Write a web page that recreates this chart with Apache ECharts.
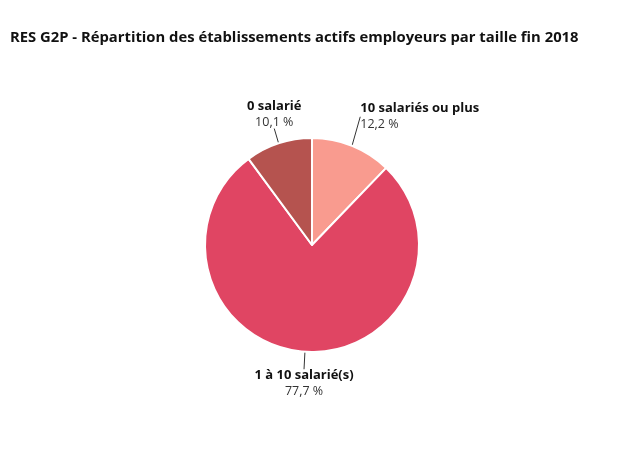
<!DOCTYPE html>
<html><head><meta charset="utf-8">
<script src="https://cdn.jsdelivr.net/npm/echarts@6/dist/echarts.min.js"></script>
<style>html,body{margin:0;padding:0;background:#fff}#c{width:623px;height:472px}</style>
</head><body><div id="c"></div>
<script>
const title = "RES G2P - Répartition des établissements actifs employeurs par taille fin 2018";
const categories = ["10 salariés ou plus", "1 à 10 salarié(s)", "0 salarié"];
const values = [12.2, 77.7, 10.1];
const colors = ["#f99b8f", "#e04563", "#b5534f"];
const aligns = ["left", "center", "center"];

const chart = echarts.init(document.getElementById('c'));
const fmt = v => v.toFixed(1).replace('.', ',') + ' %';
chart.setOption({
  animation: false,
  title: {text: title, left: 5, top: 25, textStyle: {fontFamily: 'Open Sans', fontWeight: 'bold', fontSize: 14.8, color: '#111'}},
  series: [{
    type: 'pie',
    center: [312, 245],
    radius: [0, 107],
    startAngle: 90,
    clockwise: true,
    itemStyle: {borderColor: '#fff', borderWidth: 2},
    label: {
      show: true, position: 'outside',
      formatter: p => '{n|' + p.name + '}\n{v|' + fmt(p.value) + '}',
      rich: {
        n: {fontFamily: 'Open Sans', fontWeight: 'bold', fontSize: 13, color: '#111', lineHeight: 16},
        v: {fontFamily: 'Open Sans', fontSize: 12.5, color: '#333', lineHeight: 16}
      }
    },
    labelLine: {show: true, length: 14, length2: 0, lineStyle: {color: '#333', width: 1}},
    labelLayout: function (p) {
      const pts = p.labelLinePoints;
      if (!pts) return {};
      const end = pts[pts.length - 1];
      const below = end[1] > 245;
      const dx = aligns[p.dataIndex] === 'left' ? 3 : 0;
      return {x: end[0] + dx, y: end[1] + (below ? 2 : 0), align: aligns[p.dataIndex], verticalAlign: below ? 'top' : 'bottom'};
    },
    data: categories.map((c, i) => ({name: c, value: values[i], itemStyle: {color: colors[i]}}))
  }]
});
</script></body></html>
